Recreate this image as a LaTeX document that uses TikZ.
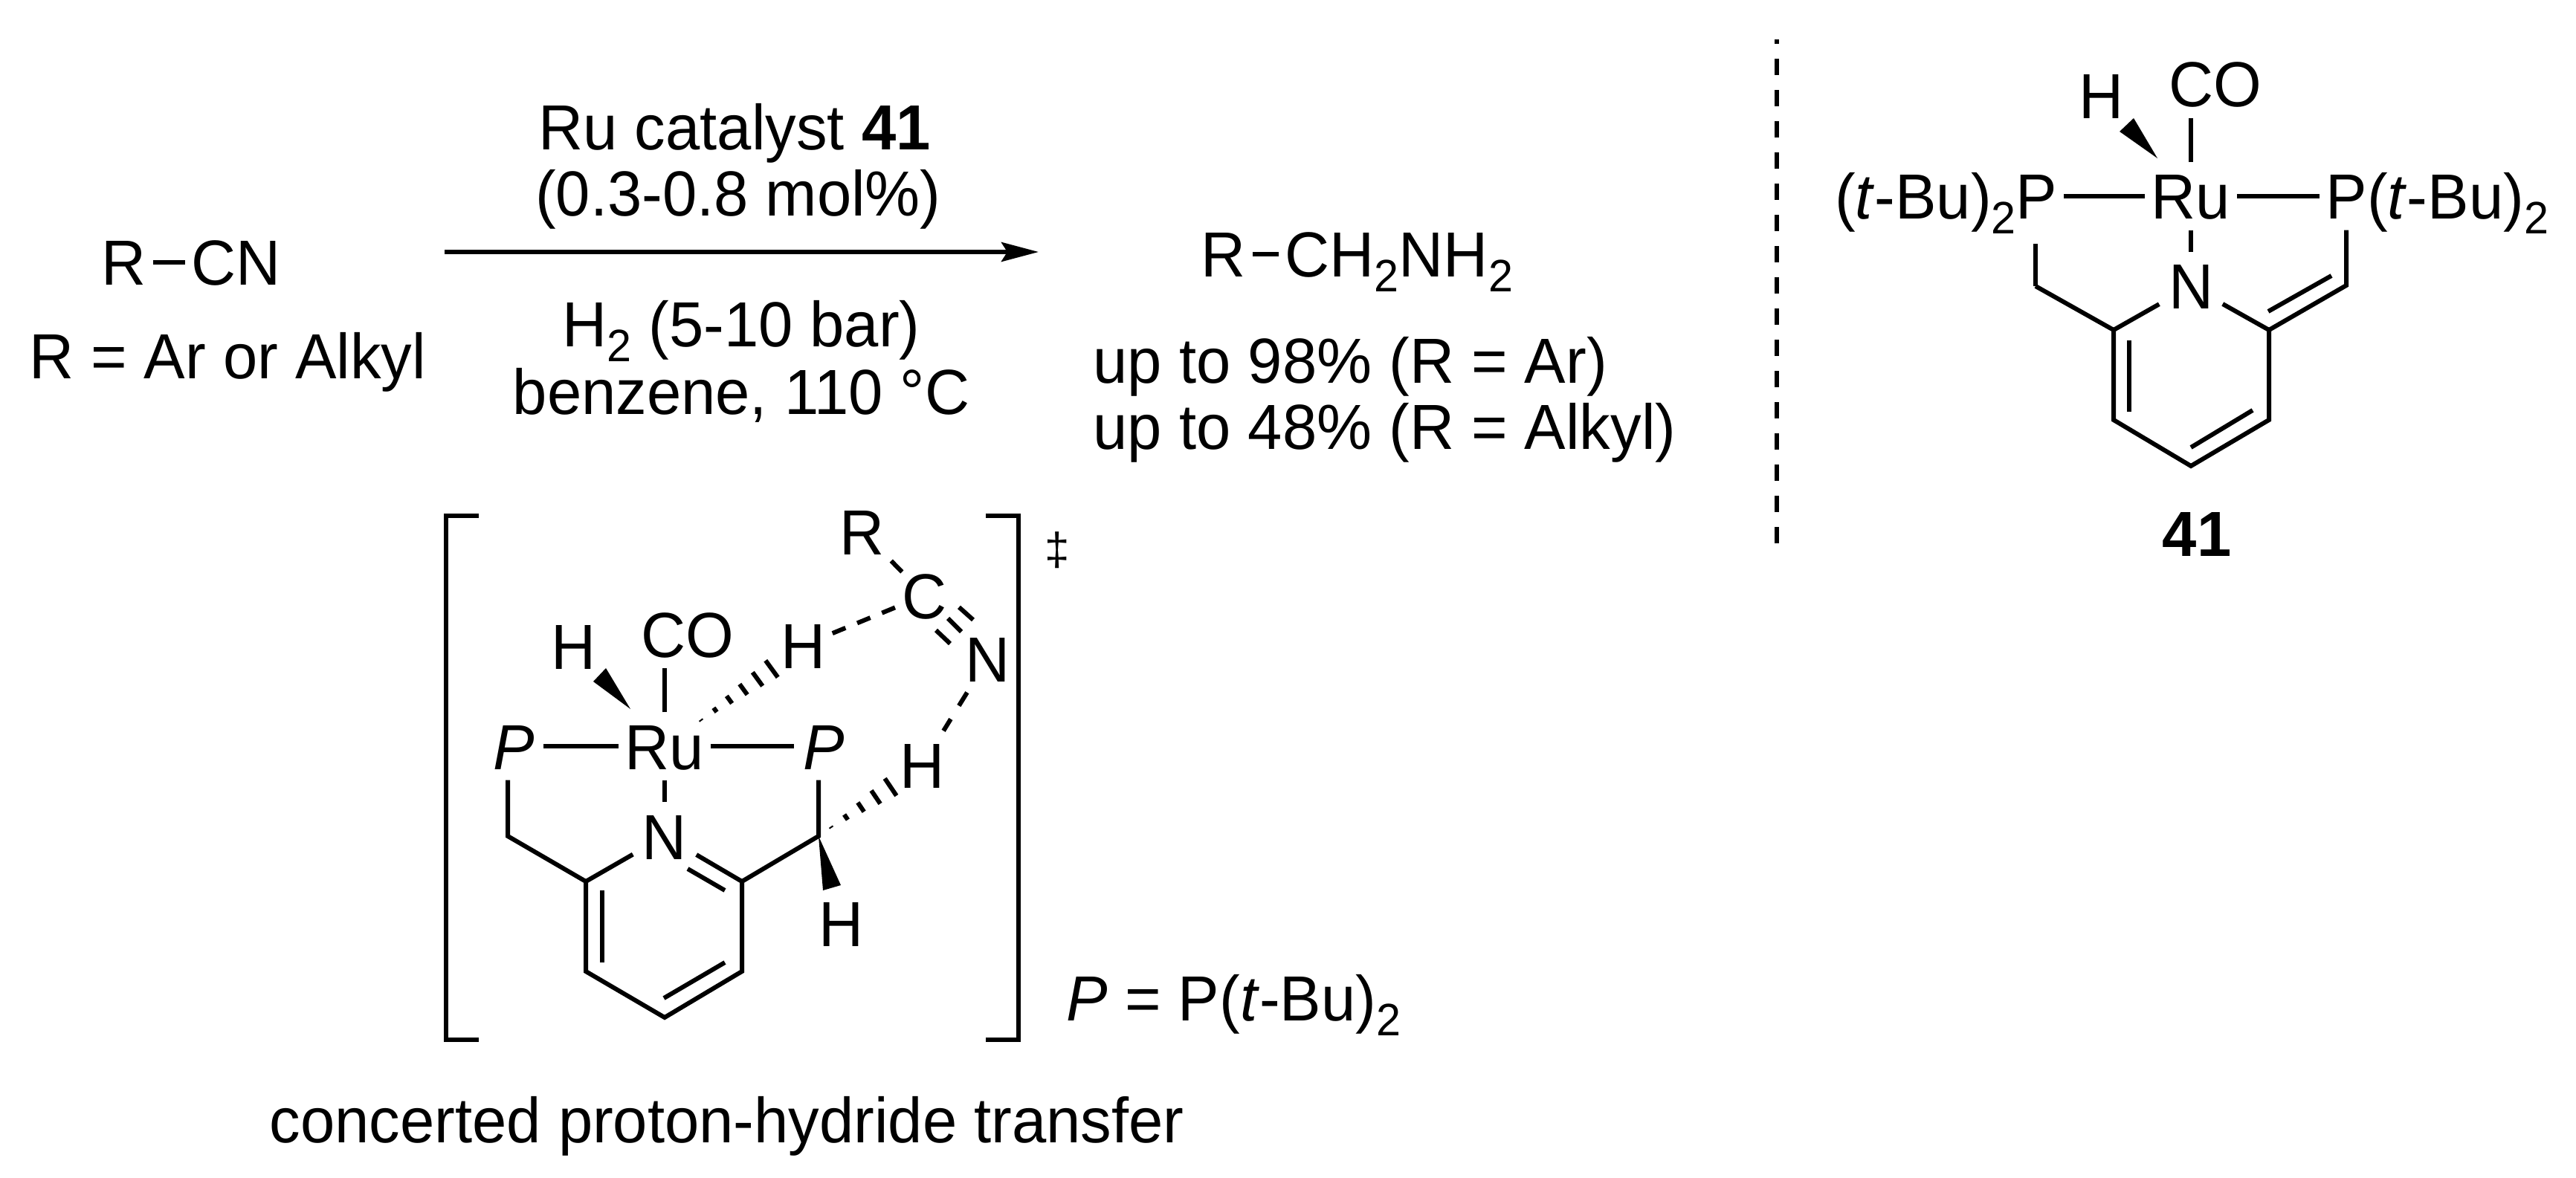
\documentclass[tikz,border=0pt]{standalone}
\usepackage{fontspec}
\setmainfont[FakeStretch=0.97]{Liberation Sans}
\usetikzlibrary{arrows.meta,calc}
\newcommand{\subtwo}{\raisebox{-0.2cm}{\fontsize{17.4}{17.4}\selectfont 2}}
\newcommand{\hashbond}[3]{%
  \coordinate (hashend) at ($(#1)!1.5!(#2)$);
  \foreach \t in {#3} {
    \draw[bond] ($(#1)!\t!(#2)!\t*0.13cm+0.01cm!90:(hashend)$) -- ($(#1)!\t!(#2)!\t*0.13cm+0.01cm!-90:(hashend)$);
  }}
\tikzset{
  every node/.style={font=\fontsize{24.4}{24.4}\selectfont},
  atom/.style={inner xsep=0.08cm, inner ysep=0.14cm, text height=0.62cm, text depth=0pt},
  natom/.style={atom, inner xsep=0.12cm},
  lbl/.style={inner sep=0pt, anchor=base},
  lblw/.style={inner sep=0pt, anchor=base west},
  bond/.style={line width=0.06cm},
  partial/.style={bond, dash pattern=on 0.19cm off 0.17cm},
  wedge/.style={fill=black, draw=none},
  bracket/.style={line width=0.06cm, line join=miter}
}
\begin{document}
\begin{tikzpicture}
  \useasboundingbox (0,0) rectangle (34.65,15.84);

  % reaction
  \node[atom] (Rstart) at (1.67,12.31) {R};
  \node[atom] (CNstart) at (3.18,12.31) {CN};
  \node[lbl] (Rdef) at (3.06,10.74) {R = Ar or Alkyl};
  \draw[bond] (Rstart) -- (CNstart);

  \coordinate (arrowstart) at (5.98,12.45);
  \coordinate (arrowend) at (13.97,12.45);
  \draw[bond,-{Stealth[length=0.5cm,width=0.26cm,inset=0.08cm]}] (arrowstart) -- (arrowend);
  \node[lbl] (cat) at (9.88,13.82) {Ru catalyst \textbf{41}};
  \node[lbl] (load) at (9.93,12.93) {(0.3-0.8 mol\%)};
  \node[lbl] (htwo) at (9.97,11.17) {H\subtwo{} (5-10 bar)};
  \node[lbl] (solvent) at (9.97,10.26) {benzene, 110 °C};

  \node[atom] (Rprod) at (16.46,12.42) {R};
  \node[atom,anchor=west] (amine) at (17.20,12.42) {CH\subtwo{}NH\subtwo};
  \draw[bond] (Rprod) -- (amine);
  \node[lblw] (yieldAr) at (14.70,10.68) {up to 98\% (R = Ar)};
  \node[lblw] (yieldAlkyl) at (14.70,9.79) {up to 48\% (R = Alkyl)};

  \coordinate (sepbottom) at (23.90,8.53);
  \coordinate (septop) at (23.90,15.31);
  \draw[line width=0.06cm, dash pattern=on 0.22cm off 0.2cm] (sepbottom) -- (septop);

  % catalyst 41
  \node[atom] (Ru) at (29.47,13.20) {Ru};
  \node[atom] (CO) at (29.80,14.71) {CO};
  \node[atom] (H) at (28.26,14.55) {H};
  \node[atom,anchor=east] (Pl) at (27.76,13.20) {(\textit{t}-Bu)\subtwo{}P};
  \node[atom,anchor=west] (Pr) at (31.20,13.20) {P(\textit{t}-Bu)\subtwo};
  \node[natom] (N) at (29.47,11.99) {N};
  \node[lbl] (num) at (29.55,8.36) {\textbf{41}};

  \coordinate (c2) at (28.43,11.40);
  \coordinate (c3) at (28.43,10.19);
  \coordinate (c4) at (29.47,9.57);
  \coordinate (c5) at (30.52,10.19);
  \coordinate (c6) at (30.52,11.40);
  \coordinate (ch2) at (27.38,11.99);
  \coordinate (ch) at (31.56,12.00);

  \draw[bond] (Pl) -- (Ru);
  \draw[bond] (Ru) -- (Pr);
  \draw[bond] (Ru.north) -- (Ru.north |- CO.south);
  \draw[bond] (Ru) -- (N);
  \draw[bond] (N) -- (c2) -- (c3) -- (c4) -- (c5) -- (c6) -- (N);
  \draw[bond] (c2) -- (ch2);
  \draw[bond,shorten >=0.18cm] (ch2) -- (ch2 |- Pl.south);
  \draw[bond] (c6) -- (ch) -- (ch |- Pr.south);
  \draw[bond] (28.64,11.26) -- (28.64,10.30);
  \draw[bond] (30.30,10.32) -- (29.47,9.82);
  \draw[bond] (30.51,11.65) -- (31.36,12.13);
  \fill[wedge] (29.02,13.71) -- (28.51,14.07) -- (28.70,14.25) -- cycle;

  % transition state
  \draw[bracket] (6.44,8.90) -- (6.00,8.90) -- (6.00,1.85) -- (6.44,1.85);
  \draw[bracket] (13.26,8.90) -- (13.70,8.90) -- (13.70,1.85) -- (13.26,1.85);
  \node[inner sep=0pt,font=\fontsize{17.6}{17.6}\selectfont] (ddag) at (14.22,8.44) {‡};

  \node[atom] (tsRu) at (8.94,5.80) {Ru};
  \node[atom] (tsCO) at (9.25,7.31) {CO};
  \node[atom] (tsHa) at (7.72,7.15) {H};
  \node[atom] (tsHb) at (10.81,7.16) {H};
  \node[atom] (tsHc) at (12.41,5.55) {H};
  \node[atom] (tsHd) at (11.32,3.42) {H};
  \node[atom] (tsR) at (11.60,8.69) {R};
  \node[inner sep=0pt,text height=0.62cm,text depth=0pt] (tsC) at (12.44,7.83) {C};
  \node[natom] (tsNn) at (13.29,6.98) {N};
  \node[atom,inner xsep=0.12cm] (tsPl) at (6.91,5.80) {\textit{P}};
  \node[atom,inner xsep=0.12cm] (tsPr) at (11.08,5.80) {\textit{P}};
  \node[natom] (tsN) at (8.94,4.59) {N};

  \coordinate (a) at (7.88,3.98);
  \coordinate (b) at (7.88,2.77);
  \coordinate (c) at (8.94,2.15);
  \coordinate (d) at (9.98,2.77);
  \coordinate (e) at (9.98,3.98);
  \coordinate (tsch2) at (6.83,4.59);
  \coordinate (tsch) at (11.01,4.59);

  \draw[bond] (tsPl) -- (tsRu);
  \draw[bond] (tsRu) -- (tsPr);
  \draw[bond] (tsRu.north) -- (tsRu.north |- tsCO.south);
  \draw[bond] (tsRu) -- (tsN);
  \draw[bond] (tsN) -- (a) -- (b) -- (c) -- (d) -- (e) -- (tsN);
  \draw[bond] (a) -- (tsch2) -- (tsch2 |- tsPl.south);
  \draw[bond] (e) -- (tsch) -- (tsch |- tsPr.south);
  \draw[bond] (8.10,3.86) -- (8.10,2.89);
  \draw[bond] (9.75,2.89) -- (8.93,2.41);
  \draw[bond] (9.25,4.15) -- (9.75,3.86);
  \fill[wedge] (8.48,6.30) -- (7.98,6.67) -- (8.15,6.85) -- cycle;
  \fill[wedge] (tsch) -- (11.07,3.86) -- (11.31,3.93) -- cycle;

  \draw[bond] (tsR) -- (tsC);
  \draw[partial,shorten >=0.09cm] (tsHb) -- (tsC);
  \draw[partial,dash pattern=on 0.21cm off 0.21cm] (tsNn) -- (tsHc);
  \draw[bond] (12.90,7.67) -- (13.09,7.50);
  \draw[bond] (12.75,7.52) -- (12.93,7.34);
  \draw[bond] (12.59,7.36) -- (12.78,7.18);

  \coordinate (hashaa) at (9.43,6.15);
  \coordinate (hashab) at (10.38,6.84);
  \hashbond{hashaa}{hashab}{0,0.2,0.4,0.6,0.8,1}
  \coordinate (hashba) at (11.18,4.71);
  \coordinate (hashbb) at (11.98,5.25);
  \hashbond{hashba}{hashbb}{0,0.25,0.5,0.75,1}

  \node[lblw] (Pdef) at (14.34,2.11) {\textit{P} = P(\textit{t}-Bu)\subtwo};
  \node[lblw] (caption) at (3.62,0.47) {concerted proton-hydride transfer};
\end{tikzpicture}
\end{document}
